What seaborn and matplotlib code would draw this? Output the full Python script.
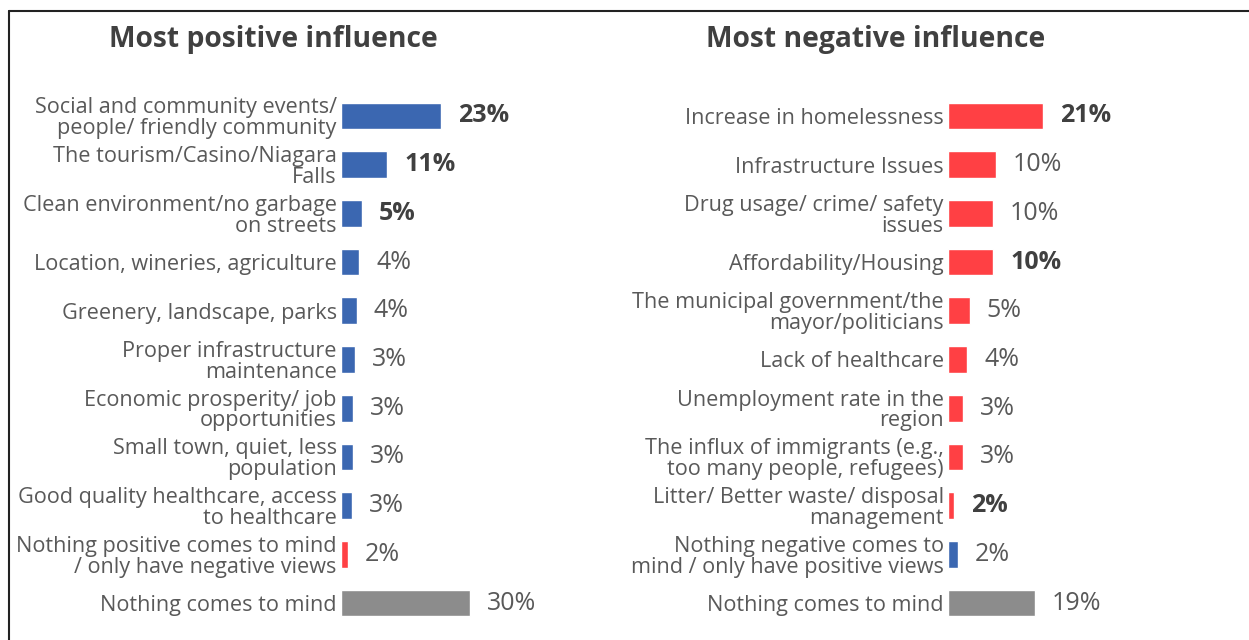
import matplotlib
matplotlib.use("Agg")
import matplotlib.pyplot as plt
import seaborn as sns
import pandas as pd
from matplotlib.lines import Line2D

# ---- data ----
pos_labels = [
    "Social and community events/\npeople/ friendly community",
    "The tourism/Casino/Niagara\nFalls",
    "Clean environment/no garbage\non streets",
    "Location, wineries, agriculture",
    "Greenery, landscape, parks",
    "Proper infrastructure\nmaintenance",
    "Economic prosperity/ job\nopportunities",
    "Small town, quiet, less\npopulation",
    "Good quality healthcare, access\nto healthcare",
    "Nothing positive comes to mind\n/ only have negative views",
    "Nothing comes to mind",
]
pos_values = [23.3, 10.7, 4.9, 4.2, 3.7, 3.3, 2.8, 2.8, 2.6, 1.6, 30.0]
pos_text = ["23%", "11%", "5%", "4%", "4%", "3%", "3%", "3%", "3%", "2%", "30%"]
pos_bold = [True, True, True, False, False, False, False, False, False, False, False]
pos_kind = ["pos"] * 9 + ["neg", "none"]

neg_labels = [
    "Increase in homelessness",
    "Infrastructure Issues",
    "Drug usage/ crime/ safety\nissues",
    "Affordability/Housing",
    "The municipal government/the\nmayor/politicians",
    "Lack of healthcare",
    "Unemployment rate in the\nregion",
    "The influx of immigrants (e.g.,\ntoo many people, refugees)",
    "Litter/ Better waste/ disposal\nmanagement",
    "Nothing negative comes to\nmind / only have positive views",
    "Nothing comes to mind",
]
neg_values = [20.9, 10.5, 9.9, 9.9, 4.8, 4.2, 3.3, 3.3, 1.3, 2.2, 19.1]
neg_text = ["21%", "10%", "10%", "10%", "5%", "4%", "3%", "3%", "2%", "2%", "19%"]
neg_bold = [True, False, False, True, False, False, False, False, True, False, False]
neg_kind = ["neg"] * 9 + ["pos", "none"]

titles = ["Most positive influence", "Most negative influence"]

kind_colors = {"pos": "#3B67B1", "neg": "#FF4044", "none": "#8C8C8C"}

sns.set_theme(style="white")
plt.rcParams["font.family"] = ["Open Sans", "DejaVu Sans"]

W, H = 1249, 640
fig = plt.figure(figsize=(W / 100, H / 100), dpi=100)

top_px, bot_px = 91.6, 627.4
ax_b = 1 - bot_px / H
ax_h = (bot_px - top_px) / H


def panel(x0_px, width_px, px_per_unit, labels, values, texts, bolds, kinds, title, title_cx):
    ax = fig.add_axes([x0_px / W, ax_b, width_px / W, ax_h])
    df = pd.DataFrame({"label": labels, "value": values, "kind": kinds})
    sns.barplot(data=df, x="value", y="label", hue="kind", palette=kind_colors,
                dodge=False, legend=False, width=0.55, ax=ax, saturation=1)
    ax.set_xlim(0, width_px / px_per_unit)
    ax.set_ylim(len(labels) - 0.5, -0.5)
    ax.set_xlabel("")
    ax.set_ylabel("")
    ax.set_xticks([])
    for s in ax.spines.values():
        s.set_visible(False)
    ax.tick_params(axis="y", length=0, pad=3)
    for t in ax.get_yticklabels():
        t.set_fontsize(15.6)
        t.set_color("#595959")
        t.set_linespacing(0.98)
        t.set_horizontalalignment("right")
    off = 17 / px_per_unit
    for i, (v, txt, b) in enumerate(zip(values, texts, bolds)):
        ax.text(v + off, i, txt, va="center", ha="left", fontsize=18,
                fontweight="bold" if b else "normal",
                color="#404040" if b else "#595959")
    fig.text(title_cx / W, 1 - 39 / H, title, ha="center", va="center",
             fontsize=20.3, fontweight="bold", color="#404040")
    return ax


panel(341, 250, 4.3, pos_labels, pos_values, pos_text, pos_bold, pos_kind, titles[0], 273)
panel(948, 250, 4.55, neg_labels, neg_values, neg_text, neg_bold, neg_kind, titles[1], 876)

# frame lines
fig.add_artist(Line2D([9 / W, 1], [1 - 10.5 / H, 1 - 10.5 / H], transform=fig.transFigure,
                      color="#222222", lw=1.5))
fig.add_artist(Line2D([9 / W, 9 / W], [0, 1 - 10.5 / H], transform=fig.transFigure,
                      color="#222222", lw=1.5))

fig.savefig("out.png", dpi=100)
